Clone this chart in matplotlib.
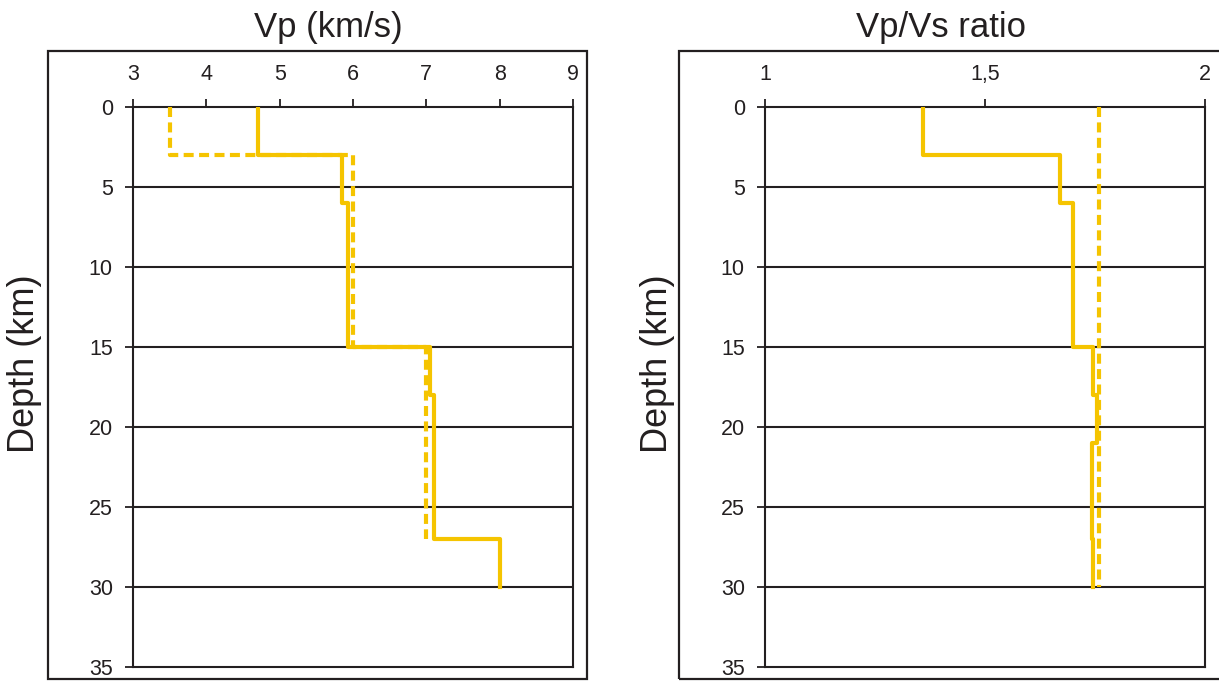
import matplotlib
matplotlib.use("Agg")
import matplotlib.pyplot as plt
from matplotlib.patches import Rectangle

plt.rcParams['font.family'] = ['Liberation Sans', 'DejaVu Sans']

# layer boundaries (km) and values
vp_bounds = [0, 3, 6, 15, 18, 27, 30]
vp_solid = [4.7, 5.85, 5.93, 7.05, 7.1, 8.0]
vp_bounds_dash = [0, 3, 15, 27]
vp_dash = [3.5, 6.0, 7.0]

ratio_bounds = [0, 3, 6, 15, 18, 21, 27, 30]
ratio_solid = [1.36, 1.67, 1.70, 1.745, 1.755, 1.743, 1.746]
ratio_bounds_dash = [0, 30]
ratio_dash = [1.76]

vp_ticks = [3, 4, 5, 6, 7, 8, 9]
ratio_ticks = [1, 1.5, 2]
ratio_ticklabels = ['1', '1,5', '2']
depth_ticks = [0, 5, 10, 15, 20, 25, 30, 35]

gold = '#f5c400'
ink = '#231f20'


def steps(bounds, vals):
    xs, ys = [], []
    for i in range(len(vals)):
        xs += [vals[i], vals[i]]
        ys += [bounds[i], bounds[i + 1]]
    return xs, ys


W, H = 1219, 681
fig = plt.figure(figsize=(W / 100, H / 100), dpi=100)

# outer frames
fig.patches.append(Rectangle((48 / W, 1 - 679 / H), (587 - 48) / W, (679 - 51) / H,
                             transform=fig.transFigure, fill=False, lw=1.6, ec=ink))
fig.patches.append(Rectangle((679 / W, 1 - 679 / H), 0.6, (679 - 51) / H,
                             transform=fig.transFigure, fill=False, lw=1.6, ec=ink))


def setup(ax, xlim, ticks, labels):
    ax.set_xlim(*xlim)
    ax.set_ylim(35, 0)
    ax.set_xticks(ticks)
    ax.set_xticklabels(labels)
    ax.set_yticks(depth_ticks)
    ax.xaxis.tick_top()
    ax.tick_params(axis='x', direction='out', length=6, width=1.3, pad=10,
                   labelsize=15.5, colors=ink)
    ax.tick_params(axis='y', direction='out', length=6, width=1.3, pad=8.5,
                   labelsize=15.5, colors=ink)
    for s in ax.spines.values():
        s.set_linewidth(1.5)
        s.set_color(ink)
    for d in depth_ticks[1:-1]:
        ax.axhline(d, color=ink, lw=1.5, zorder=1)


ax1 = fig.add_axes([133 / W, 1 - 667 / H, 440 / W, 560 / H])
setup(ax1, (3, 9), vp_ticks, [str(t) for t in vp_ticks])
x, y = steps(vp_bounds_dash, vp_dash)
ax1.plot(x, y, color=gold, lw=3, ls=(0, (2.4, 1.3)), zorder=3)
x, y = steps(vp_bounds, vp_solid)
ax1.plot(x, y, color=gold, lw=3, zorder=4)

ax2 = fig.add_axes([765 / W, 1 - 667 / H, 440 / W, 560 / H])
setup(ax2, (1, 2), ratio_ticks, ratio_ticklabels)
x, y = steps(ratio_bounds_dash, ratio_dash)
ax2.plot(x, y, color=gold, lw=3, ls=(0, (2.4, 1.3)), zorder=3)
x, y = steps(ratio_bounds, ratio_solid)
ax2.plot(x, y, color=gold, lw=3, zorder=4)

fig.text(328 / W, 1 - 28 / H, 'Vp (km/s)', ha='center', va='center', fontsize=25, color=ink)
fig.text(941 / W, 1 - 28 / H, 'Vp/Vs ratio', ha='center', va='center', fontsize=25, color=ink)
fig.text(25 / W, 1 - 364 / H, 'Depth (km)', ha='center', va='center', rotation=90,
         fontsize=26, color=ink)
fig.text(658 / W, 1 - 364 / H, 'Depth (km)', ha='center', va='center', rotation=90,
         fontsize=26, color=ink)

fig.savefig('out.png', dpi=100)
